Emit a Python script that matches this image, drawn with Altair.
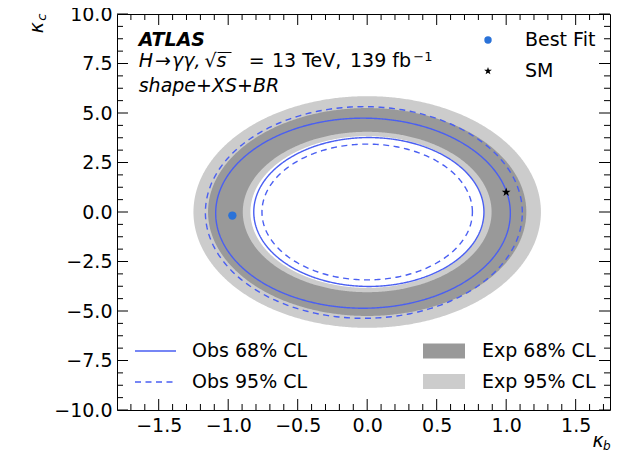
import math
import numpy as np
import pandas as pd
import altair as alt

# ---------------- data ----------------
x_domain = [-1.8, 1.747]
y_domain = [-10.0, 10.0]
x_major = [-1.5, -1.0, -0.5, 0.0, 0.5, 1.0, 1.5]
x_minor = [-1.7, -1.6, -1.4, -1.3, -1.2, -1.1, -0.9, -0.8, -0.7, -0.6,
           -0.4, -0.3, -0.2, -0.1, 0.1, 0.2, 0.3, 0.4, 0.6, 0.7, 0.8, 0.9,
           1.1, 1.2, 1.3, 1.4, 1.6, 1.7]
y_major = [-10.0, -7.5, -5.0, -2.5, 0.0, 2.5, 5.0, 7.5, 10.0]
y_minor = [-9.375, -8.75, -8.125, -6.875, -6.25, -5.625, -4.375, -3.75,
           -3.125, -1.875, -1.25, -0.625, 0.625, 1.25, 1.875, 3.125, 3.75,
           4.375, 5.625, 6.25, 6.875, 8.125, 8.75, 9.375]

# expected bands: ellipse edges (semi-axes along kappa_b / kappa_c)
exp_edge = ["95 outer", "68 outer", "68 inner", "95 inner"]
exp_label = ["Exp 95% CL", "Exp 68% CL", "", ""]
exp_a = [1.25, 1.145, 0.895, 0.84]
exp_b = [5.85, 5.25, 4.05, 3.83]

# observed contours
obs_contour = ["68 outer", "68 inner", "95 outer", "95 inner"]
obs_level = ["Obs 68% CL", "Obs 68% CL", "Obs 95% CL", "Obs 95% CL"]
obs_cx = [-0.03, 0.012, -0.024, 0.0]
obs_cy = [-0.06, 0.0, -0.025, 0.0]
obs_a = [1.06, 0.828, 1.14, 0.757]
obs_b = [4.8, 3.76, 5.345, 3.43]

point_label = ["Best Fit", "SM"]
point_kb = [-0.97, 1.0]
point_kc = [-0.18, 1.0]

# ---------------- styling ----------------
FONT = "DejaVu Sans"
FS = 19
W, H = 493, 396
BLUE = "#4a5ff2"
DOT = "#2a72d8"
DARK = "#999999"
LIGHT = "#cccccc"
MAJ, MIN = 11, 6

def star_path(scale=1.1):
    pts = []
    for k in range(10):
        r = (1.0 if k % 2 == 0 else 0.4) * scale
        ang = math.radians(-90 + 36 * k)
        pts.append(f"{r*math.cos(ang):.4f},{r*math.sin(ang):.4f}")
    return "M" + "L".join(pts) + "Z"

RECT = "M-1,-0.357L1,-0.357L1,0.357L-1,0.357Z"

xs = alt.Scale(domain=x_domain, nice=False, zero=False)
ys = alt.Scale(domain=y_domain, nice=False, zero=False)
X_AX = alt.Axis(values=x_major, format=".1f", ticks=False, domain=False, grid=False,
                labelPadding=6, title=None, labelFlush=False, labelOverlap=False,
                labelFont=FONT, labelFontSize=FS, labelColor="black")
Y_AX = alt.Axis(values=y_major, format=".1f", ticks=False, domain=False, grid=False,
                labelPadding=5, title=None, labelFlush=False, labelOverlap=False,
                labelFont=FONT, labelFontSize=FS, labelColor="black")

common_leg = dict(title=None, orient="none", direction="vertical", padding=0,
                  labelFont=FONT, labelFontSize=FS, labelColor="black",
                  labelLimit=400, clipHeight=19)

fill_legend = alt.Legend(legendX=306, legendY=327.5, symbolType=RECT, symbolSize=1764,
                         symbolStrokeWidth=0, labelOffset=17, rowPadding=10.5,
                         symbolOpacity=1, **common_leg)
dash_legend = alt.Legend(legendX=17, legendY=327.5, symbolType="stroke", symbolSize=1681,
                         symbolStrokeWidth=1.5, symbolStrokeColor=BLUE, labelOffset=15,
                         rowPadding=11, **common_leg)
point_legend = alt.Legend(legendX=361.5, legendY=16.5, symbolSize=55, symbolStrokeWidth=0,
                          labelOffset=27.5, rowPadding=11, symbolOpacity=1, **common_leg)

fill_scale = alt.Scale(domain=["Exp 68% CL", "Exp 95% CL"], range=[DARK, LIGHT])

# ---------------- bands ----------------
t_half = np.linspace(0.0, np.pi, 361)
band_layers = []
const_fill = [None, None, LIGHT, "white"]
for i in range(4):
    df = pd.DataFrame({
        "x": exp_a[i] * np.cos(t_half),
        "y": exp_b[i] * np.sin(t_half),
        "y2": -exp_b[i] * np.sin(t_half),
        "band": exp_label[i],
    })
    if const_fill[i] is None:
        fill = alt.Fill("band:N", scale=fill_scale, legend=fill_legend)
    else:
        fill = alt.value(const_fill[i])
    band_layers.append(
        alt.Chart(df).mark_area(opacity=1, strokeWidth=0).encode(
            x=alt.X("x:Q", scale=xs, axis=X_AX),
            y=alt.Y("y:Q", scale=ys, axis=Y_AX),
            y2="y2:Q",
            fill=fill,
        )
    )

# ---------------- observed lines ----------------
t_full = np.linspace(0.0, 2 * np.pi, 361)
rows = []
for i in range(4):
    for j, t in enumerate(t_full):
        rows.append({"contour": obs_contour[i], "level": obs_level[i], "i": j,
                     "x": obs_cx[i] + obs_a[i] * math.cos(t),
                     "y": obs_cy[i] + obs_b[i] * math.sin(t)})
obs_df = pd.DataFrame(rows)
obs_layer = alt.Chart(obs_df).mark_line(color=BLUE, strokeWidth=1.4).encode(
    x=alt.X("x:Q", scale=xs, axis=X_AX),
    y=alt.Y("y:Q", scale=ys, axis=Y_AX),
    detail="contour:N",
    order="i:Q",
    strokeDash=alt.StrokeDash("level:N",
                              scale=alt.Scale(domain=["Obs 68% CL", "Obs 95% CL"],
                                              range=[[1, 0], [6, 4.5]]),
                              legend=dash_legend),
)

# ---------------- ticks (inward, all four sides) ----------------
def xticks(vals, length, top):
    y0 = 0 if top else H
    y1 = length if top else H - length
    return alt.Chart(pd.DataFrame({"v": vals})).mark_rule(color="black", strokeWidth=1).encode(
        x=alt.X("v:Q", scale=xs, axis=X_AX), y=alt.value(y0), y2=alt.value(y1))

def yticks(vals, length, right):
    x0 = W if right else 0
    x1 = W - length if right else length
    return alt.Chart(pd.DataFrame({"v": vals})).mark_rule(color="black", strokeWidth=1).encode(
        y=alt.Y("v:Q", scale=ys, axis=Y_AX), x=alt.value(x0), x2=alt.value(x1))

tick_layers = [xticks(x_major, MAJ, False), xticks(x_major, MAJ, True),
               xticks(x_minor, MIN, False), xticks(x_minor, MIN, True),
               yticks(y_major, MAJ, False), yticks(y_major, MAJ, True),
               yticks(y_minor, MIN, False), yticks(y_minor, MIN, True)]

# ---------------- points ----------------
pts_df = pd.DataFrame({"label": point_label, "kb": point_kb, "kc": point_kc})
pts_layer = alt.Chart(pts_df).mark_point(filled=True, opacity=1, size=70, strokeWidth=0).encode(
    x=alt.X("kb:Q", scale=xs, axis=X_AX),
    y=alt.Y("kc:Q", scale=ys, axis=Y_AX),
    color=alt.Color("label:N", scale=alt.Scale(domain=point_label, range=[DOT, "black"]),
                    legend=point_legend),
    shape=alt.Shape("label:N", scale=alt.Scale(domain=point_label, range=["circle", star_path()]),
                    legend=point_legend),
)

# ---------------- texts ----------------
one = pd.DataFrame({"k": [0]})

def txt(s, x, y, size=FS, style="normal", weight="normal", angle=0, align="left"):
    return alt.Chart(one).mark_text(text=s, font=FONT, fontSize=size, fontStyle=style,
                                    fontWeight=weight, angle=angle, align=align,
                                    baseline="alphabetic", color="black").encode(
        x=alt.value(x), y=alt.value(y))

texts = [
    txt("ATLAS", 21.7, 31.7, style="italic", weight="bold"),
    txt("H", 21.7, 52.7, style="italic"),
    txt("→", 38, 52.7),
    txt("γγ,", 55, 52.7, style="italic"),
    txt("√s", 87.5, 52.7, style="italic"),
    txt("=", 131.7, 52.7),
    txt("13 TeV,", 155, 52.7),
    txt("139 fb", 233, 52.7),
    txt("−1", 296.3, 46.5, size=13),
    txt("shape+XS+BR", 21.7, 77.7, style="italic"),
    txt("κ", 475.5, 433, style="italic"),
    txt("b", 486, 435.5, size=12, style="italic"),
    txt("κ", -74, 19.3, style="italic", angle=270),
    txt("c", -71, 6.7, size=13, style="italic", angle=270),
]
overbar = alt.Chart(one).mark_rule(color="black", strokeWidth=1).encode(
    x=alt.value(100.5), x2=alt.value(114.5), y=alt.value(38.5))

chart = alt.layer(*band_layers, obs_layer, *tick_layers, pts_layer, *texts, overbar).properties(
    width=W, height=H,
    autosize=alt.AutoSizeParams(type="none"),
    padding={"left": 109, "top": 6, "right": 1, "bottom": 41},
).configure_view(stroke="black", strokeWidth=1)

chart.save("out.html", embed_options={"renderer": "svg", "actions": False})
